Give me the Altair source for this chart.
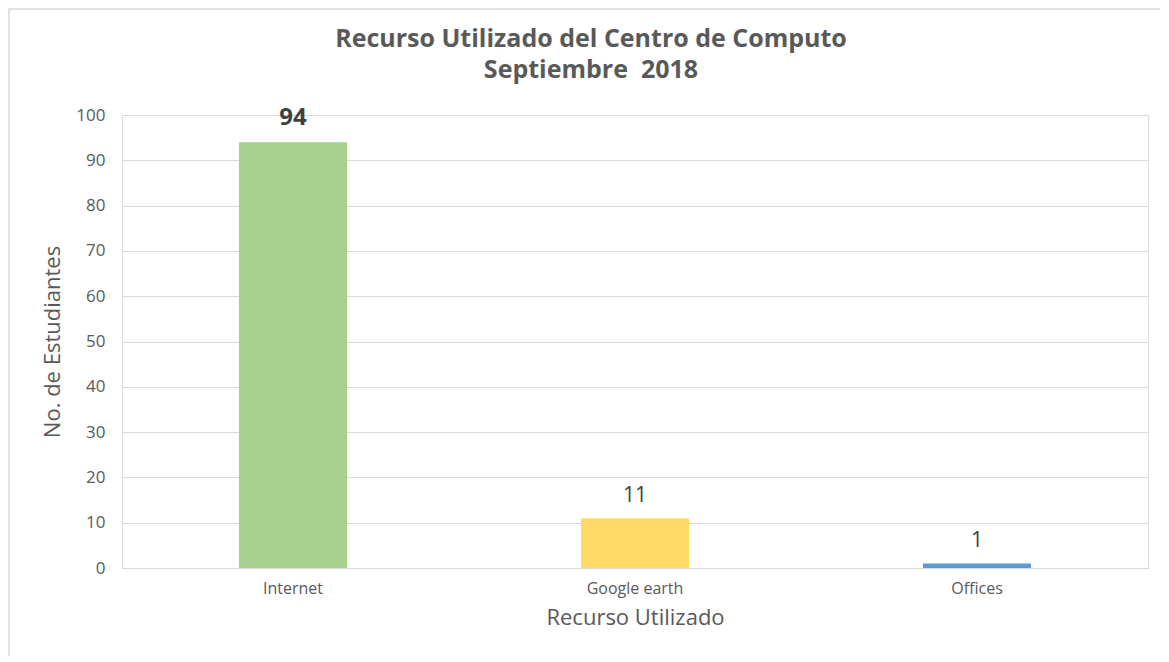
import altair as alt
import pandas as pd

categories = ["Internet", "Google earth", "Offices"]
values = [94, 11, 1]
colors = ["#A9D18E", "#FFD966", "#5B9BD5"]
label_bold = [True, False, False]
title_lines = ["Recurso Utilizado del Centro de Computo", "Septiembre\u00a0 2018"]

df = pd.DataFrame({"recurso": categories, "n": values, "bold": label_bold})

FONT = "Open Sans"

x_enc = alt.X(
    "recurso:N",
    sort=categories,
    title="Recurso Utilizado",
    scale=alt.Scale(paddingInner=0.684, paddingOuter=0.342),
    axis=alt.Axis(
        labelAngle=0, labelFont=FONT, labelFontSize=16, labelColor="#595959",
        labelPadding=12, ticks=False, domainColor="#d9d9d9", domainWidth=1.2,
        titleFont=FONT, titleFontSize=22, titleFontWeight="normal",
        titleColor="#595959", titlePadding=11,
    ),
)
y_enc = alt.Y(
    "n:Q",
    title="No. de Estudiantes",
    scale=alt.Scale(domain=[0, 100], nice=False),
    axis=alt.Axis(
        values=list(range(0, 101, 10)), domain=False, ticks=False,
        gridColor="#d9d9d9", gridWidth=1.2,
        labelFont=FONT, labelFontSize=17, labelColor="#595959", labelPadding=17,
        titleFont=FONT, titleFontSize=22, titleFontWeight="normal",
        titleColor="#595959", titlePadding=11,
    ),
)

bars = alt.Chart(df).mark_bar().encode(
    x=x_enc,
    y=y_enc,
    color=alt.Color("recurso:N", scale=alt.Scale(domain=categories, range=colors), legend=None),
)

lab_bold = alt.Chart(df).transform_filter("datum.bold").mark_text(
    baseline="bottom", dy=-12, font=FONT, fontSize=24, fontWeight="bold", color="#404040"
).encode(x=alt.X("recurso:N", sort=categories), y="n:Q", text="n:Q")

lab_norm = alt.Chart(df).transform_filter("!datum.bold").mark_text(
    baseline="bottom", dy=-12, font=FONT, fontSize=21, fontWeight="normal", color="#404040"
).encode(x=alt.X("recurso:N", sort=categories), y="n:Q", text="n:Q")

frame_df = pd.DataFrame({"f": [1]})
frame = alt.Chart(frame_df).mark_rect(fill=None, stroke="#d9d9d9", strokeWidth=1.5).encode(
    x=alt.value(-113), x2=alt.value(1060), y=alt.value(-106), y2=alt.value(570)
)

title_df = pd.DataFrame({"t": title_lines, "line": [0, 1]})
title1 = alt.Chart(title_df).transform_filter("datum.line == 0").mark_text(
    font=FONT, fontSize=25, fontWeight="bold", color="#595959", baseline="middle", align="center"
).encode(text="t:N", x=alt.value(469), y=alt.value(-76))
title2 = alt.Chart(title_df).transform_filter("datum.line == 1").mark_text(
    font=FONT, fontSize=25, fontWeight="bold", color="#595959", baseline="middle", align="center"
).encode(text="t:N", x=alt.value(469), y=alt.value(-45))

chart = alt.layer(frame, bars, lab_bold, lab_norm, title1, title2).properties(
    width=1026,
    height=453,
    padding={"left": 114, "top": 107, "right": 12, "bottom": 88},
    autosize=alt.AutoSizeParams(type="none"),
).configure_view(stroke=None).configure(background="white")

chart.save("out.html", embed_options={"renderer": "svg", "actions": False})
